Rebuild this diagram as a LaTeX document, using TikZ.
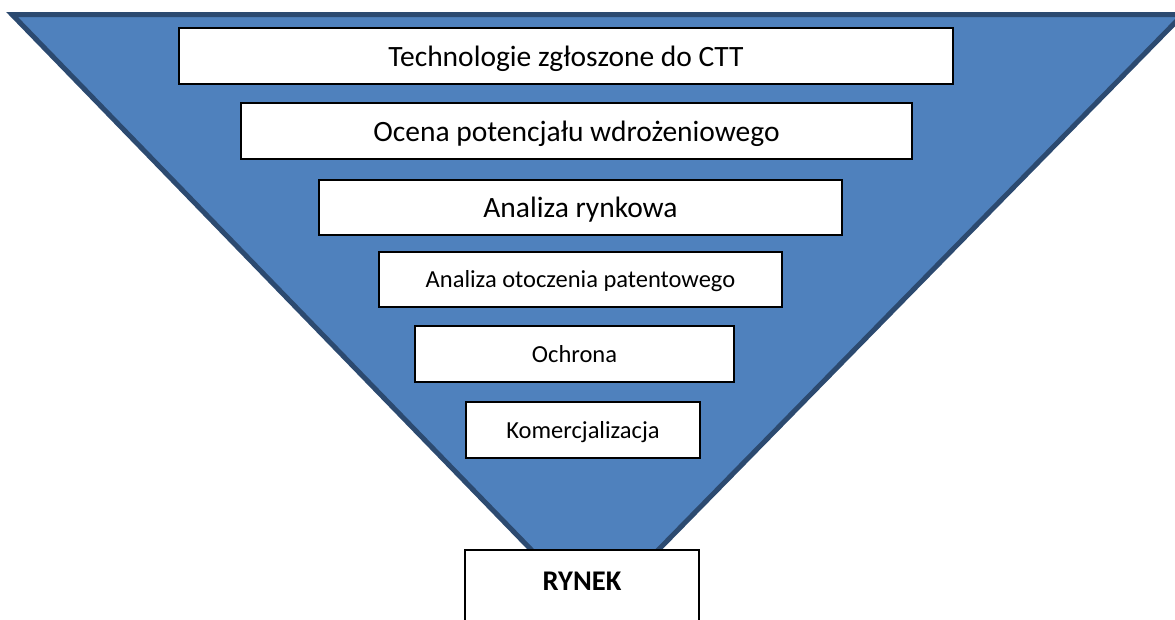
\documentclass[tikz,border=0pt]{standalone}
\usepackage{fontspec}
\setmainfont{Carlito}
\definecolor{funnelfill}{HTML}{4F81BD}
\definecolor{funnelline}{HTML}{2C4A70}
\begin{document}
\begin{tikzpicture}[x=1pt,y=-1pt,
  stagebox/.style={draw=black, line width=2pt, fill=white, inner sep=0pt, anchor=center, text depth=0pt},
  bigtext/.style={font=\fontsize{29.5}{34}\selectfont, text height=20pt},
  smalltext/.style={font=\fontsize{24.5}{28}\selectfont, text height=16pt}]
\useasboundingbox (0,0) rectangle (1175,619);
% funnel
\draw[fill=funnelfill, draw=funnelline, line width=5pt, line join=miter]
  (12,14.5) -- (1183,14.5) -- (594.5,615) -- cycle;
% stages
\node (s1) [stagebox, bigtext, minimum width=774, minimum height=56] at (566,56) {Technologie zgłoszone do CTT};
\node (s2) [stagebox, bigtext, minimum width=671, minimum height=56] at (576.5,131) {Ocena potencjału wdrożeniowego};
\node (s3) [stagebox, bigtext, minimum width=523, minimum height=55] at (580.5,207.5) {Analiza rynkowa};
\node (s4) [stagebox, smalltext, minimum width=403, minimum height=55] at (580.5,279.5) {Analiza otoczenia patentowego};
\node (s5) [stagebox, smalltext, minimum width=319, minimum height=56] at (574.5,354) {Ochrona};
\node (s6) [stagebox, smalltext, minimum width=234, minimum height=56] at (583,430) {Komercjalizacja};
% market
\node (rynek) [draw=black, line width=2pt, fill=white, anchor=north, inner sep=0pt,
  minimum width=234, text height=40pt, text depth=60pt, font=\fontsize{28.5}{32}\selectfont\bfseries]
  at (582,549) {RYNEK};
\end{tikzpicture}
\end{document}
